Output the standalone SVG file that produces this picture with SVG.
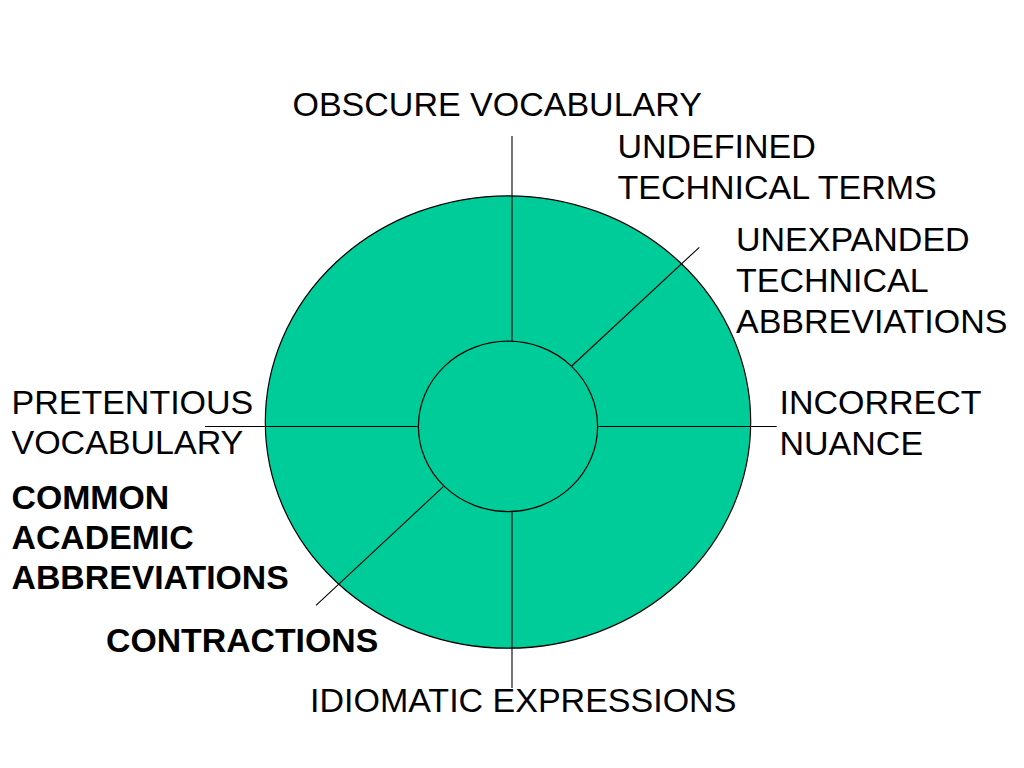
<svg xmlns="http://www.w3.org/2000/svg" width="1024" height="768" viewBox="0 0 1024 768">
<style>
.disc{fill:#00CC99;stroke:#000;stroke-width:1.2}
.ln{stroke:#000;stroke-width:1.1;fill:none}
.t{font-family:"Liberation Sans",Arial,sans-serif;font-size:34px;fill:#000}
.b{font-family:"Liberation Sans",Arial,sans-serif;font-size:33.8px;font-weight:bold;fill:#000}
</style>
<rect width="1024" height="768" fill="#fff"/>
<g id="outer-circle"><ellipse class="disc" cx="508" cy="422" rx="242.7" ry="226.2"/></g>
<g id="connectors">
<line class="ln" x1="512" y1="136" x2="512" y2="341.5"/>
<line class="ln" x1="512" y1="511.5" x2="512" y2="688"/>
<line class="ln" x1="205" y1="426.5" x2="418.5" y2="426.5"/>
<line class="ln" x1="597.5" y1="426.5" x2="776.7" y2="426.5"/>
<line class="ln" x1="571.7" y1="366" x2="699.3" y2="247.3"/>
<line class="ln" x1="443.3" y1="486.7" x2="316" y2="605.3"/>
</g>
<g id="inner-circle"><ellipse class="disc" cx="508" cy="426.4" rx="89.6" ry="85.2"/></g>
<g id="obscure-vocabulary"><text class="t" x="292.5" y="115.5">OBSCURE VOCABULARY</text></g>
<g id="undefined-technical-terms"><text class="t" x="617.5" y="157.5">UNDEFINED</text><text class="t" x="617.5" y="198.5">TECHNICAL TERMS</text></g>
<g id="unexpanded-technical-abbreviations"><text class="t" x="736" y="251">UNEXPANDED</text><text class="t" x="736" y="292">TECHNICAL</text><text class="t" x="736" y="333">ABBREVIATIONS</text></g>
<g id="incorrect-nuance"><text class="t" x="779.5" y="414">INCORRECT</text><text class="t" x="779.5" y="455">NUANCE</text></g>
<g id="pretentious-vocabulary"><text class="t" x="11.5" y="413.5">PRETENTIOUS</text><text class="t" x="11.5" y="454">VOCABULARY</text></g>
<g id="common-academic-abbreviations"><text class="b" x="11.5" y="509">COMMON</text><text class="b" x="11.5" y="549">ACADEMIC</text><text class="b" x="11.5" y="589">ABBREVIATIONS</text></g>
<g id="contractions"><text class="b" x="106" y="651.7">CONTRACTIONS</text></g>
<g id="idiomatic-expressions"><text class="t" x="310" y="712">IDIOMATIC EXPRESSIONS</text></g>
</svg>
